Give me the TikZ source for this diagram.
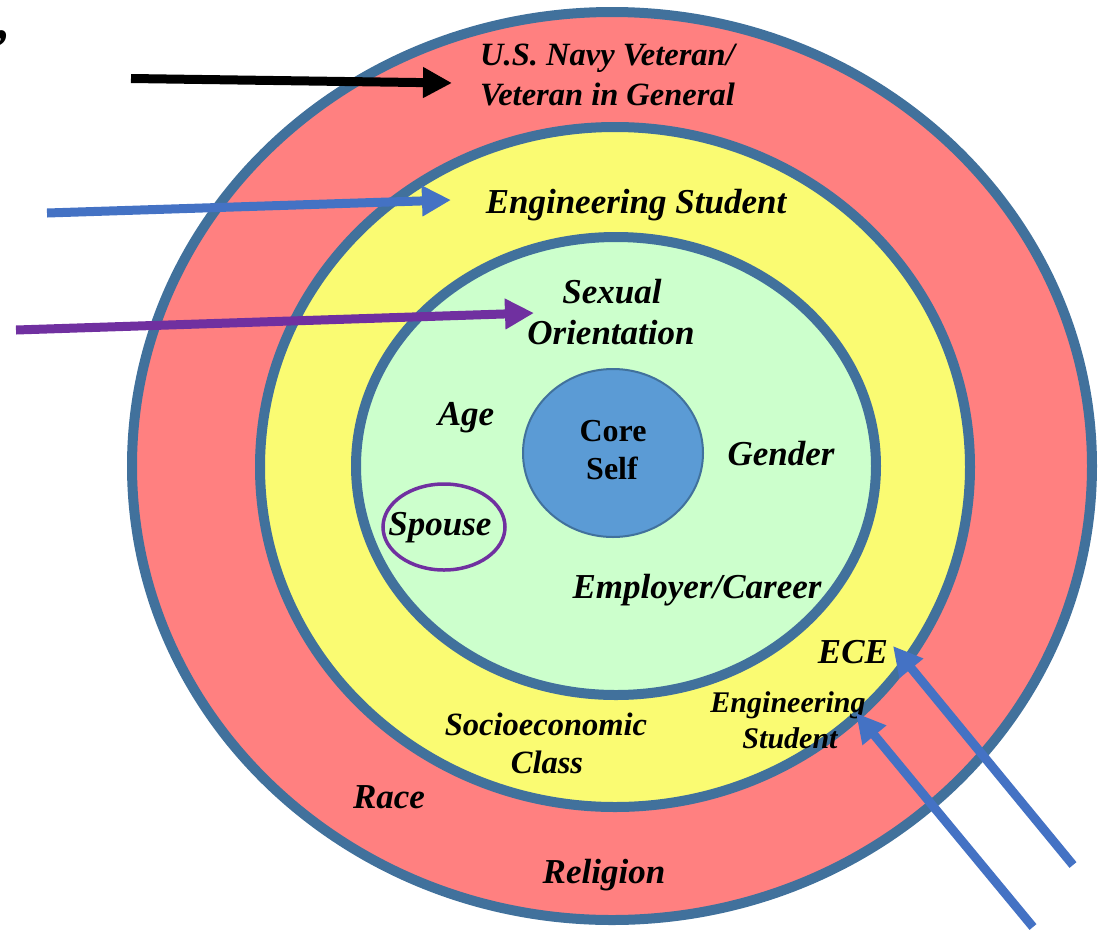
\documentclass[tikz,border=0pt]{standalone}
\usepackage{fontspec}
\setmainfont{Liberation Serif}
\usetikzlibrary{arrows.meta,shapes.geometric}
\definecolor{ringline}{HTML}{41719C}
\definecolor{ringred}{HTML}{FF8080}
\definecolor{ringyellow}{HTML}{FAFB72}
\definecolor{ringgreen}{HTML}{CCFFCC}
\definecolor{coreblue}{HTML}{5B9BD5}
\definecolor{arrblue}{HTML}{4472C4}
\definecolor{arrpurple}{HTML}{7030A0}
\tikzset{
  ring/.style={draw=ringline, line width=10pt},
  lbl/.style={font=\fontsize{35}{40}\selectfont\bfseries\itshape, inner sep=0pt, anchor=base},
  lblm/.style={font=\fontsize{32.5}{38}\selectfont\bfseries\itshape, inner sep=0pt, anchor=base},
  lbls/.style={font=\fontsize{30}{36}\selectfont\bfseries\itshape, inner sep=0pt, anchor=base},
  corelbl/.style={font=\fontsize{32}{38}\selectfont\bfseries, inner sep=0pt, anchor=base},
  bigarrow/.style={line width=9pt, -{Triangle[length=29pt,width=29pt]}},
}
\begin{document}
\begin{tikzpicture}[x=1pt,y=-1pt]
\useasboundingbox (0,0) rectangle (1109,930);
% rings
\fill[ringred, ring] (612,466) ellipse [x radius=480pt, y radius=454pt];
\fill[ringyellow, ring] (615,467) ellipse [x radius=355pt, y radius=340pt];
\fill[ringgreen, ring] (616,466) ellipse [x radius=260pt, y radius=229pt];
\node[draw=ringline, fill=coreblue, line width=2pt, ellipse, minimum width=180pt, minimum height=168pt, inner sep=0pt] (core) at (613,453) {};
\node[draw=arrpurple, line width=3.5pt, ellipse, minimum width=122pt, minimum height=86pt, inner sep=0pt] (spouseo) at (444,527) {};
% corner mark
\node[font=\fontsize{54}{60}\selectfont\bfseries\itshape, inner sep=0pt, anchor=base east] (mark) at (9,66) {’};
% labels
\node[lblm, anchor=base west] (navy1) at (480,65) {U.S. Navy Veteran/};
\node[lblm, anchor=base west] (navy2) at (480,105) {Veteran in General};
\node[lbl] (eng) at (636,213) {Engineering Student};
\node[lbl] (sex1) at (612,303) {Sexual};
\node[lbl] (sex2) at (611,344) {Orientation};
\node[lbl] (age) at (466,425) {Age};
\node[corelbl] (core1) at (613,441) {Core};
\node[corelbl] (core2) at (612,479) {Self};
\node[lbl] (gender) at (781,465) {Gender};
\node[lbl] (spouse) at (440,535) {Spouse};
\node[lbl] (employer) at (697,598) {Employer/Career};
\node[lbl] (ece) at (853,663) {ECE};
\node[lbls] (es1) at (788,712) {Engineering};
\node[lbls] (es2) at (790,748) {Student};
\node[lblm] (soc1) at (546,735) {Socioeconomic};
\node[lblm] (soc2) at (547,773) {Class};
\node[lbl] (race) at (389,808) {Race};
\node[lbl] (religion) at (604,883) {Religion};
% arrow end points
\coordinate (t1) at (131,78.5);
\coordinate (h1) at (452,83);
\coordinate (t2) at (47,213);
\coordinate (h2) at (451,200);
\coordinate (t3) at (16,330);
\coordinate (h3) at (534,313);
\coordinate (t4) at (1073,865);
\coordinate (h4) at (893,646);
\coordinate (t5) at (1033,927);
\coordinate (h5) at (856,713);
\draw[bigarrow, black] (t1) -- (h1);
\draw[bigarrow, arrblue] (t2) -- (h2);
\draw[bigarrow, arrpurple] (t3) -- (h3);
\draw[bigarrow, arrblue] (t4) -- (h4);
\draw[bigarrow, arrblue] (t5) -- (h5);
\end{tikzpicture}
\end{document}
